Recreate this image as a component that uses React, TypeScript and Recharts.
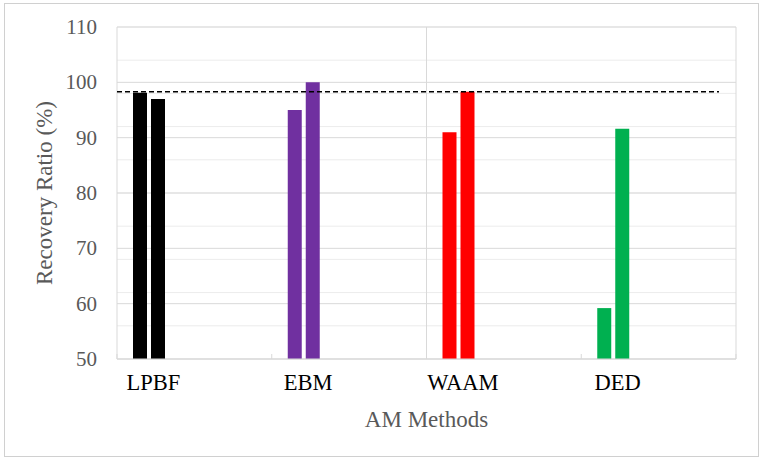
import React from 'react';
import {
  ComposedChart,
  Bar,
  Cell,
  XAxis,
  YAxis,
  CartesianGrid,
  ReferenceLine,
  Label,
} from 'recharts';

const methods = ['LPBF', 'EBM', 'WAAM', 'DED'];
const recoveryA = [98.1, 95.0, 91.0, 59.2];
const recoveryB = [97.0, 100.0, 98.3, 91.6];
const methodColors = ['#000000', '#7030A0', '#FF0000', '#00B050'];

const yTicks = [50, 60, 70, 80, 90, 100, 110];
const yMinorTicks = [
  50, 52, 54, 56, 58, 60, 62, 64, 66, 68, 70, 72, 74, 76, 78, 80, 82, 84, 86, 88, 90,
  92, 94, 96, 98, 100, 102, 104, 106, 108, 110,
];
const boundaryTicks = [0, 1, 2, 3, 4];
const verticalGuides = [0, 2, 4];
const thresholdValue = 98.3;
const thresholdSpan = [0, 3.89];

const data = methods.map((m, i) => ({ method: m, a: recoveryA[i], b: recoveryB[i] }));

const SERIF = "'Liberation Serif', 'Times New Roman', serif";

const XTick = (props: any) => {
  const { x, y, payload } = props;
  return (
    <text x={x + 4} y={y} dy={16} textAnchor="middle" fontSize={22.5} fill="#000000" fontFamily={SERIF}>
      {payload.value}
    </text>
  );
};

const YTick = (props: any) => {
  const { x, y, payload } = props;
  return (
    <text x={x} y={y} dy={7} textAnchor="end" fontSize={21} fill="#595959" fontFamily={SERIF}>
      {payload.value}
    </text>
  );
};

const EmptyTick = () => <g />;

const YTitle = (props: any) => {
  const vb = props.viewBox || { x: 0, y: 27, width: 117, height: 332 };
  const cx = vb.x + 52;
  const cy = vb.y + vb.height / 2;
  return (
    <text
      x={cx}
      y={cy}
      transform={`rotate(-90 ${cx} ${cy})`}
      textAnchor="middle"
      fontSize={23}
      fill="#595959"
      fontFamily={SERIF}
    >
      Recovery Ratio (%)
    </text>
  );
};

const XTitle = (props: any) => {
  const vb = props.viewBox || { x: 117, y: 359, width: 619, height: 101 };
  return (
    <text x={vb.x + vb.width / 2} y={vb.y + 68} textAnchor="middle" fontSize={23} fill="#595959" fontFamily={SERIF}>
      AM Methods
    </text>
  );
};

export default function App() {
  return (
    <div style={{ position: 'absolute', left: 0, top: 0, width: 762, height: 460, background: '#fff' }}>
      <div
        style={{
          position: 'absolute',
          left: 4,
          top: 3,
          width: 755,
          height: 454,
          border: '1px solid #d0d0d0',
          boxSizing: 'border-box',
        }}
      />
      <div style={{ position: 'absolute', left: 0, top: 0 }}>
        <ComposedChart
          width={762}
          height={460}
          data={data}
          margin={{ top: 27, right: 26, bottom: 0, left: 0 }}
          barSize={14}
          barGap={4}
        >
          <CartesianGrid yAxisId="minor" horizontal vertical={false} stroke="#ececec" />
          <CartesianGrid horizontal vertical={false} stroke="#d9d9d9" />
          <XAxis
            dataKey="method"
            height={101}
            padding={{ left: -45, right: 45 }}
            axisLine={false}
            tickLine={false}
            tickSize={0}
            tickMargin={15}
            tick={<XTick />}
            interval={0}
          >
            <Label content={<XTitle />} />
          </XAxis>
          <XAxis
            xAxisId="num"
            dataKey="none"
            type="number"
            scale="linear"
            domain={[0, 4]}
            ticks={boundaryTicks}
            interval={0}
            mirror
            height={1}
            tick={<EmptyTick />}
            tickSize={5}
            tickLine={{ stroke: '#d9d9d9' }}
            axisLine={{ stroke: '#d9d9d9' }}
            allowDataOverflow
          />
          <YAxis
            domain={[50, 110]}
            ticks={yTicks}
            width={117}
            axisLine={false}
            tickLine={false}
            tickSize={0}
            tickMargin={20}
            tick={<YTick />}
            allowDataOverflow
          >
            <Label content={<YTitle />} />
          </YAxis>
          <YAxis yAxisId="minor" hide domain={[50, 110]} ticks={yMinorTicks} allowDataOverflow />
          {verticalGuides.map((v) => (
            <ReferenceLine key={v} xAxisId="num" x={v} stroke="#d9d9d9" strokeWidth={1} />
          ))}
          <Bar dataKey="a" isAnimationActive={false}>
            {data.map((d, i) => (
              <Cell key={d.method} fill={methodColors[i]} />
            ))}
          </Bar>
          <Bar dataKey="b" isAnimationActive={false}>
            {data.map((d, i) => (
              <Cell key={d.method} fill={methodColors[i]} />
            ))}
          </Bar>
          <ReferenceLine
            xAxisId="num"
            segment={[
              { x: thresholdSpan[0], y: thresholdValue },
              { x: thresholdSpan[1], y: thresholdValue },
            ]}
            stroke="#000000"
            strokeWidth={1.5}
            strokeDasharray="5 3"
          />
        </ComposedChart>
      </div>
    </div>
  );
}
